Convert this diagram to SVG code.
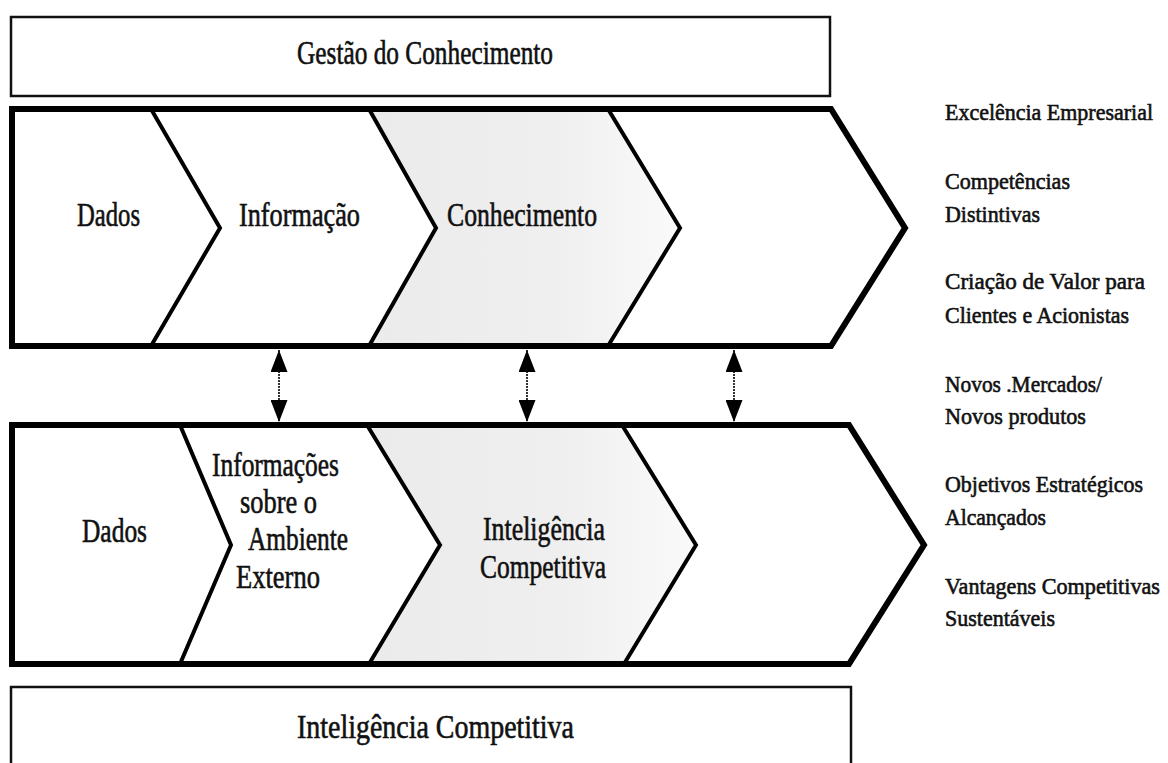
<svg xmlns="http://www.w3.org/2000/svg" width="1168" height="763" viewBox="0 0 1168 763">
<style>
  .box{fill:#fff;stroke:#111;stroke-width:2.5}
  .band{fill:#fff;stroke:#000;stroke-width:6;stroke-linejoin:miter}
  .div{fill:none;stroke:#000;stroke-width:4;stroke-linejoin:miter}
  .shade{fill:url(#g)}
  .t{font-family:"Liberation Serif","Times New Roman",serif;fill:#111;stroke:#111;stroke-width:0.6}
  .lbl{font-size:33px}
  .side{font-size:23px}
  .conn{stroke:#333;stroke-width:2;stroke-dasharray:2 1;fill:none}
</style>
<defs>
  <linearGradient id="g" x1="0" y1="0" x2="1" y2="0">
    <stop offset="0" stop-color="#ebebeb"/>
    <stop offset="0.6" stop-color="#efefef"/>
    <stop offset="1" stop-color="#fafafa"/>
  </linearGradient>
  <marker id="ah" viewBox="0 0 22 17" refX="22" refY="8.5" markerWidth="22" markerHeight="17" markerUnits="userSpaceOnUse" orient="auto-start-reverse">
    <path d="M0,0 L22,8.5 L0,17 Z" fill="#000"/>
  </marker>
</defs>
<rect width="1168" height="763" fill="#fff"/>

<g id="gestao-conhecimento">
  <rect class="box" x="11" y="17" width="819" height="79"/>
  <text class="t lbl" x="297" y="64" textLength="256" lengthAdjust="spacingAndGlyphs">Gestão do Conhecimento</text>
</g>

<g id="cadeia-conhecimento">
  <polygon class="band" points="12,109 831,109 905,228 831,346 12,346"/>
  <polygon class="shade" points="369,112 608,112 678,228 608,343 369,343 436,228"/>
  <polyline class="div" points="151,109 220,228 151,346"/>
  <polyline class="div" points="369,109 436,228 369,346"/>
  <polyline class="div" points="608,109 680,228 608,346"/>
  <text class="t lbl" x="77" y="226" textLength="63" lengthAdjust="spacingAndGlyphs">Dados</text>
  <text class="t lbl" x="239" y="226" textLength="121" lengthAdjust="spacingAndGlyphs">Informação</text>
  <text class="t lbl" x="447" y="226" textLength="150" lengthAdjust="spacingAndGlyphs">Conhecimento</text>
</g>

<g id="cadeia-inteligencia">
  <polygon class="band" points="12,425 849,425 924,545 849,664 12,664"/>
  <polygon class="shade" points="367,428 622,428 694,545 624,661 369,661 440,545"/>
  <polyline class="div" points="180,425 231,545 180,664"/>
  <polyline class="div" points="367,425 440,545 369,664"/>
  <polyline class="div" points="622,425 696,545 624,664"/>
  <text class="t lbl" x="82" y="542" textLength="65" lengthAdjust="spacingAndGlyphs">Dados</text>
  <text class="t lbl" x="212" y="476" textLength="127" lengthAdjust="spacingAndGlyphs">Informações</text>
  <text class="t lbl" x="240" y="513" textLength="77" lengthAdjust="spacingAndGlyphs">sobre o</text>
  <text class="t lbl" x="248" y="550" textLength="100" lengthAdjust="spacingAndGlyphs">Ambiente</text>
  <text class="t lbl" x="236" y="588" textLength="84" lengthAdjust="spacingAndGlyphs">Externo</text>
  <text class="t lbl" x="483" y="540" textLength="122" lengthAdjust="spacingAndGlyphs">Inteligência</text>
  <text class="t lbl" x="480" y="578" textLength="126" lengthAdjust="spacingAndGlyphs">Competitiva</text>
</g>

<g id="inteligencia-competitiva">
  <rect class="box" x="11" y="687" width="840" height="90"/>
  <text class="t lbl" x="297" y="738" textLength="277" lengthAdjust="spacingAndGlyphs">Inteligência Competitiva</text>
</g>

<g id="resultados">
  <text class="t side" x="945" y="120" textLength="208" lengthAdjust="spacingAndGlyphs">Excelência Empresarial</text>
  <text class="t side" x="945" y="189" textLength="125" lengthAdjust="spacingAndGlyphs">Competências</text>
  <text class="t side" x="945" y="222" textLength="95" lengthAdjust="spacingAndGlyphs">Distintivas</text>
  <text class="t side" x="945" y="289" textLength="200" lengthAdjust="spacingAndGlyphs">Criação de Valor para</text>
  <text class="t side" x="945" y="323" textLength="184" lengthAdjust="spacingAndGlyphs">Clientes e Acionistas</text>
  <text class="t side" x="945" y="392" textLength="157" lengthAdjust="spacingAndGlyphs">Novos .Mercados/</text>
  <text class="t side" x="945" y="424" textLength="141" lengthAdjust="spacingAndGlyphs">Novos produtos</text>
  <text class="t side" x="945" y="492" textLength="198" lengthAdjust="spacingAndGlyphs">Objetivos Estratégicos</text>
  <text class="t side" x="945" y="525" textLength="101" lengthAdjust="spacingAndGlyphs">Alcançados</text>
  <text class="t side" x="945" y="594" textLength="215" lengthAdjust="spacingAndGlyphs">Vantagens Competitivas</text>
  <text class="t side" x="945" y="626" textLength="110" lengthAdjust="spacingAndGlyphs">Sustentáveis</text>
</g>

<g id="connectors">
  <line class="conn" x1="279" y1="350" x2="279" y2="422" marker-start="url(#ah)" marker-end="url(#ah)"/>
  <line class="conn" x1="527" y1="350" x2="527" y2="422" marker-start="url(#ah)" marker-end="url(#ah)"/>
  <line class="conn" x1="734" y1="350" x2="734" y2="422" marker-start="url(#ah)" marker-end="url(#ah)"/>
</g>
</svg>
